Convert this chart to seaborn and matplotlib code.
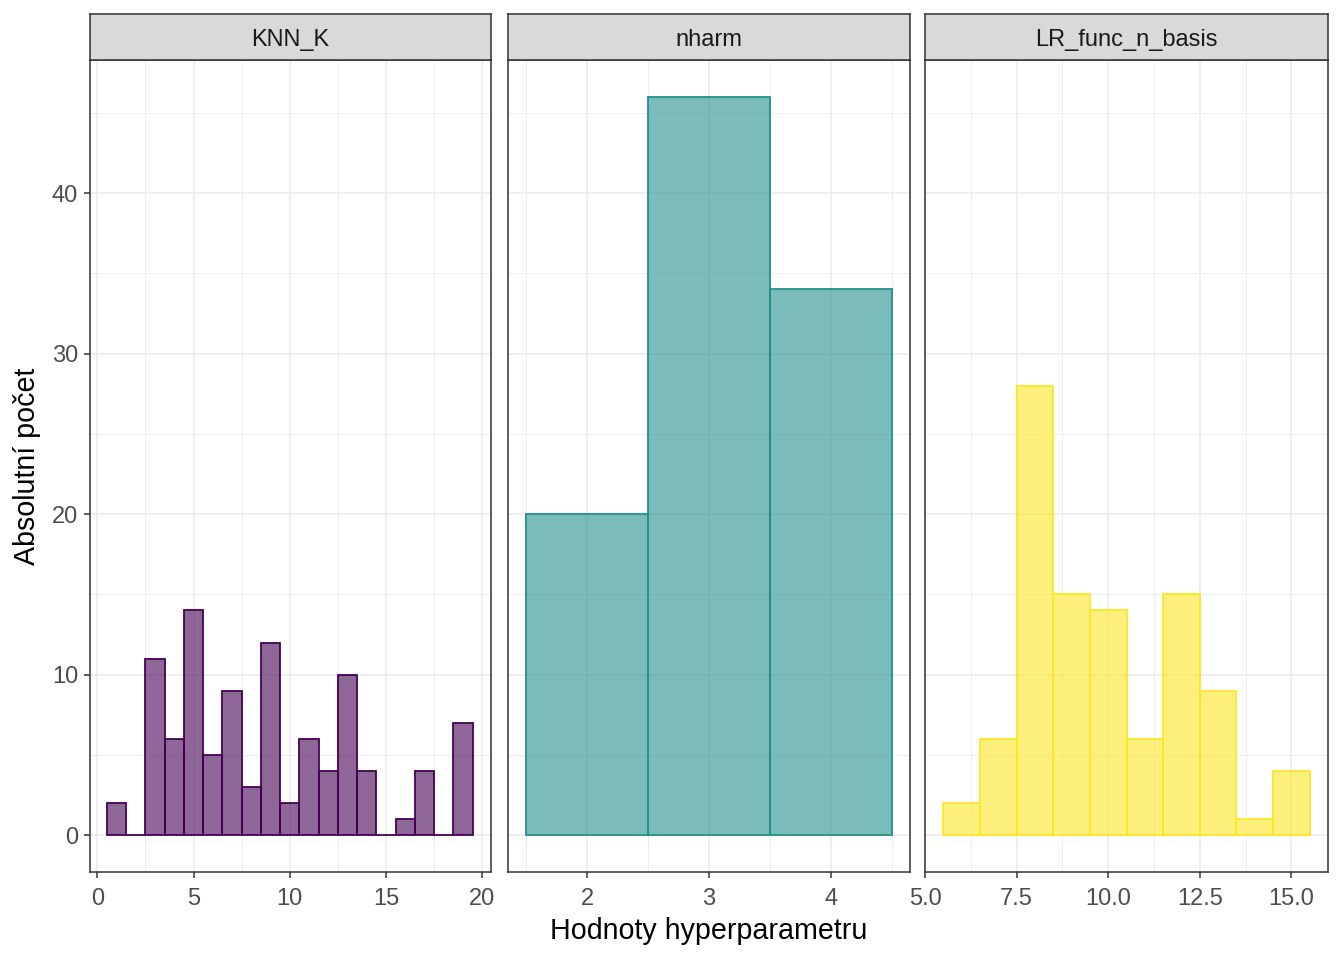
import numpy as np
import matplotlib
matplotlib.use("Agg")
import matplotlib.pyplot as plt
from matplotlib.ticker import MultipleLocator
import seaborn as sns

# data
knn_k_values = [1, 2, 3, 4, 5, 6, 7, 8, 9, 10, 11, 12, 13, 14, 15, 16, 17, 18, 19]
knn_k_counts = [2, 0, 11, 6, 14, 5, 9, 3, 12, 2, 6, 4, 10, 4, 0, 1, 4, 0, 7]

nharm_values = [2, 3, 4]
nharm_counts = [20, 46, 34]

lr_basis_values = [6, 7, 8, 9, 10, 11, 12, 13, 14, 15]
lr_basis_counts = [2, 6, 28, 15, 14, 6, 15, 9, 1, 4]

facet_names = ["KNN_K", "nharm", "LR_func_n_basis"]
facet_colors = ["#440154", "#21908C", "#FDE725"]

sns.set_style("white")
plt.rcParams["font.family"] = ["Liberation Sans", "DejaVu Sans"]

W, H = 1344, 960
fig = plt.figure(figsize=(W / 100, H / 100), dpi=100)

panels_px = [(90, 491), (508, 910), (925, 1328)]
top_px, bottom_px, strip_top_px = 60, 872, 14

# values, major tick step, minor tick step, x limits
facets = [
    (knn_k_values, knn_k_counts, 5, 2.5, (-0.38, 20.45)),
    (nharm_values, nharm_counts, 1, 0.5, (1.35, 4.65)),
    (lr_basis_values, lr_basis_counts, 2.5, 1.25, (5.0, 16.0)),
]

ymax = max(max(knn_k_counts), max(nharm_counts), max(lr_basis_counts))
ypad = ymax * 0.05

for i, ((vals, counts, major, minor, xlim), (x0, x1)) in enumerate(zip(facets, panels_px)):
    ax = fig.add_axes([x0 / W, 1 - bottom_px / H, (x1 - x0) / W, (bottom_px - top_px) / H])
    col = facet_colors[i]
    sns.histplot(x=vals, weights=counts, discrete=True, color=col, alpha=0.6,
                 edgecolor=col, linewidth=1.3, ax=ax)
    ax.set_xlim(*xlim)
    ax.set_ylim(-ypad, ymax + ypad)

    ax.xaxis.set_major_locator(MultipleLocator(major))
    ax.xaxis.set_minor_locator(MultipleLocator(minor))
    ax.yaxis.set_major_locator(MultipleLocator(10))
    ax.yaxis.set_minor_locator(MultipleLocator(5))
    ax.grid(which="major", color="#EBEBEB", linewidth=1.1)
    ax.grid(which="minor", color="#EBEBEB", linewidth=0.6)
    ax.set_axisbelow(True)
    for s in ax.spines.values():
        s.set_color("#333333")
        s.set_linewidth(1.1)
        s.set_visible(True)

    ax.tick_params(axis="x", which="major", length=4.5, width=1.1, color="#333333",
                   labelsize=17, labelcolor="#4D4D4D", pad=7, bottom=True)
    ax.tick_params(which="minor", length=0)
    if major == 2.5:
        ax.xaxis.set_major_formatter(matplotlib.ticker.FormatStrFormatter("%.1f"))
    if i == 0:
        ax.tick_params(axis="y", which="major", length=4.5, width=1.1, color="#333333",
                       labelsize=17, labelcolor="#4D4D4D", pad=4, left=True)
    else:
        ax.tick_params(axis="y", which="major", left=False, labelleft=False)
    ax.set_xlabel("")
    ax.set_ylabel("")

    # facet strip
    sax = fig.add_axes([x0 / W, 1 - top_px / H, (x1 - x0) / W, (top_px - strip_top_px) / H])
    sax.set_facecolor("#D9D9D9")
    sax.set_xticks([])
    sax.set_yticks([])
    for s in sax.spines.values():
        s.set_color("#333333")
        s.set_linewidth(1.1)
        s.set_visible(True)
    sax.text(0.5, 0.44, facet_names[i], ha="center", va="center", fontsize=17,
             color="#1A1A1A", transform=sax.transAxes)

fig.text((90 + 1328) / 2 / W, 1 - 931 / H, "Hodnoty hyperparametru", ha="center", va="center",
         fontsize=20.6, color="black")
fig.text(27 / W, 1 - (top_px + bottom_px) / 2 / H, "Absolutní počet", ha="center", va="center",
         rotation=90, fontsize=20.6, color="black")

fig.savefig("out.png", dpi=100, facecolor="white")
